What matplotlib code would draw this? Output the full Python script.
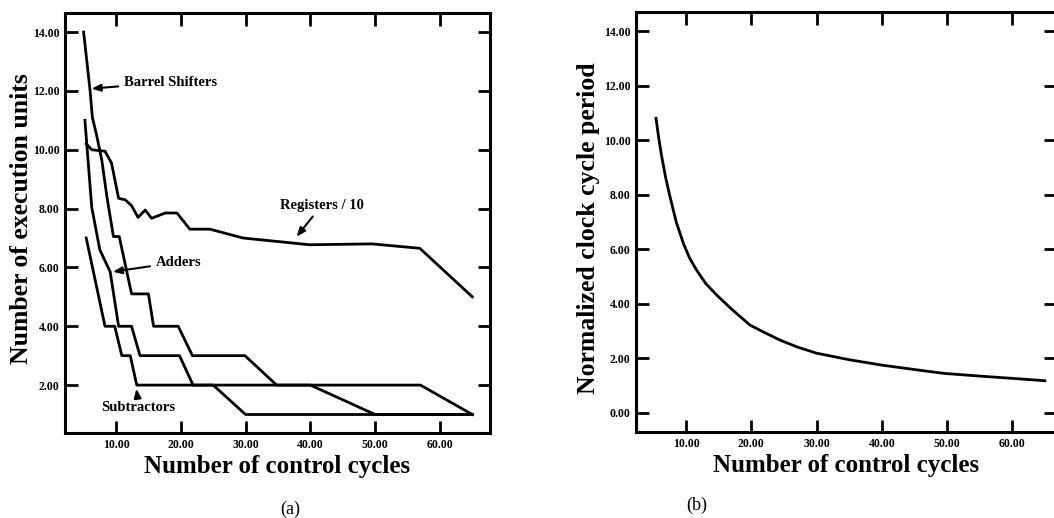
import matplotlib
matplotlib.use('Agg')
import matplotlib.pyplot as plt
from matplotlib.ticker import FormatStrFormatter

# (a) number of execution units vs control cycles
barrel_x = [5, 6, 6.35, 7, 7.8, 8.6, 9.6, 10.5, 12.4, 15.0, 15.8, 19.6, 21.8, 29.9, 34.8, 57, 65]
barrel_y = [14, 12, 11.1, 10.5, 9.65, 8.4, 7.05, 7.05, 5.1, 5.1, 4, 4, 3, 3, 2, 2, 1]

adders_x = [5.2, 6.25, 7.5, 9.1, 10.4, 12.4, 13.7, 19.8, 21.9, 40, 50, 65]
adders_y = [11, 8.05, 6.6, 5.85, 4, 4, 3, 3, 2, 2, 1, 1]

subtr_x = [5.4, 8.3, 9.8, 10.9, 12.2, 13.2, 25, 30, 65]
subtr_y = [7, 4, 4, 3, 3, 2, 2, 1, 1]

regs_x = [5.4, 6.25, 8.3, 9.3, 10.4, 11.4, 12.4, 13.4, 14.5, 15.5, 17.6, 19.4, 21.4, 24.5, 29.6, 39.9, 49.5, 56.9, 65]
regs_y = [10.2, 10.0, 9.95, 9.55, 8.35, 8.3, 8.1, 7.7, 7.95, 7.67, 7.85, 7.85, 7.3, 7.3, 7.0, 6.77, 6.8, 6.65, 5.0]

# (b) normalized clock cycle period
clk_x = [5.4, 5.8, 6.27, 6.9, 7.55, 8.5, 9.6, 10.5, 11.6, 13.0, 14.7, 17.0, 19.8,
         22.0, 24.4, 27.0, 30.0, 35.0, 39.8, 45.0, 49.5, 55.0, 59.8, 65]
clk_y = [10.8, 10.1, 9.4, 8.6, 7.92, 7.0, 6.21, 5.7, 5.24, 4.75, 4.32, 3.8, 3.22,
         2.95, 2.67, 2.42, 2.19, 1.95, 1.76, 1.59, 1.45, 1.35, 1.27, 1.18]

x_ticks = [10, 20, 30, 40, 50, 60]
ya_ticks = [2, 4, 6, 8, 10, 12, 14]
yb_ticks = [0, 2, 4, 6, 8, 10, 12, 14]

plt.rcParams['font.family'] = ['Liberation Serif', 'DejaVu Serif']
plt.rcParams['font.weight'] = 'bold'

fig = plt.figure(figsize=(10.54, 5.18), dpi=100)
ax1 = fig.add_axes([0.0617, 0.164, 0.403, 0.811])
ax2 = fig.add_axes([0.6034, 0.166, 0.3985, 0.811])


def style_axes(ax, yticks):
    ax.set_xticks(x_ticks)
    ax.set_yticks(yticks)
    ax.xaxis.set_major_formatter(FormatStrFormatter('%.2f'))
    ax.yaxis.set_major_formatter(FormatStrFormatter('%.2f'))
    ax.tick_params(direction='in', top=True, right=True, length=9, width=2,
                   labelsize=8.5, pad=4)
    for lab in ax.get_xticklabels() + ax.get_yticklabels():
        lab.set_fontweight('bold')
    for sp in ax.spines.values():
        sp.set_linewidth(2.2)
    ax.set_xlabel('Number of control cycles', fontsize=18, fontweight='bold', labelpad=3)


lw = 2.0
ax1.plot(barrel_x, barrel_y, color='black', lw=lw)
ax1.plot(adders_x, adders_y, color='black', lw=lw)
ax1.plot(subtr_x, subtr_y, color='black', lw=lw)
ax1.plot(regs_x, regs_y, color='black', lw=lw)
ax1.set_xlim(2.13, 67.7)
ax1.set_ylim(0.37, 14.65)
style_axes(ax1, ya_ticks)
ax1.set_ylabel('Number of execution units', fontsize=18.5, fontweight='bold')
ax1.yaxis.set_label_coords(-0.075, 0.51)

arrow = dict(arrowstyle='-|>,head_length=0.5,head_width=0.2', color='black', lw=1.5)
ax1.annotate('Barrel Shifters', xy=(5.8, 12.07), xytext=(11.2, 12.3),
             fontsize=10.5, fontweight='bold', va='center', ha='left', arrowprops=arrow)
ax1.annotate('Registers / 10', xy=(37.6, 6.97), xytext=(41.8, 8.12),
             fontsize=10.5, fontweight='bold', va='center', ha='center', arrowprops=arrow)
ax1.annotate('Adders', xy=(9.1, 5.84), xytext=(16.1, 6.18),
             fontsize=10.5, fontweight='bold', va='center', ha='left', arrowprops=arrow)
ax1.annotate('Subtractors', xy=(13.1, 1.97), xytext=(13.5, 1.25),
             fontsize=10.5, fontweight='bold', va='center', ha='center', arrowprops=arrow)

ax2.plot(clk_x, clk_y, color='black', lw=lw)
ax2.set_xlim(2.33, 66.7)
ax2.set_ylim(-0.7, 14.7)
style_axes(ax2, yb_ticks)
ax2.set_ylabel('Normalized clock cycle period', fontsize=18.5, fontweight='bold')
ax2.yaxis.set_label_coords(-0.086, 0.486)

fig.text(290 / 1054, 1 - 509 / 518, '(a)', fontsize=13, fontweight='normal', ha='center', va='center')
fig.text(697 / 1054, 1 - 505 / 518, '(b)', fontsize=13, fontweight='normal', ha='center', va='center')

fig.savefig('out.png', dpi=100)
